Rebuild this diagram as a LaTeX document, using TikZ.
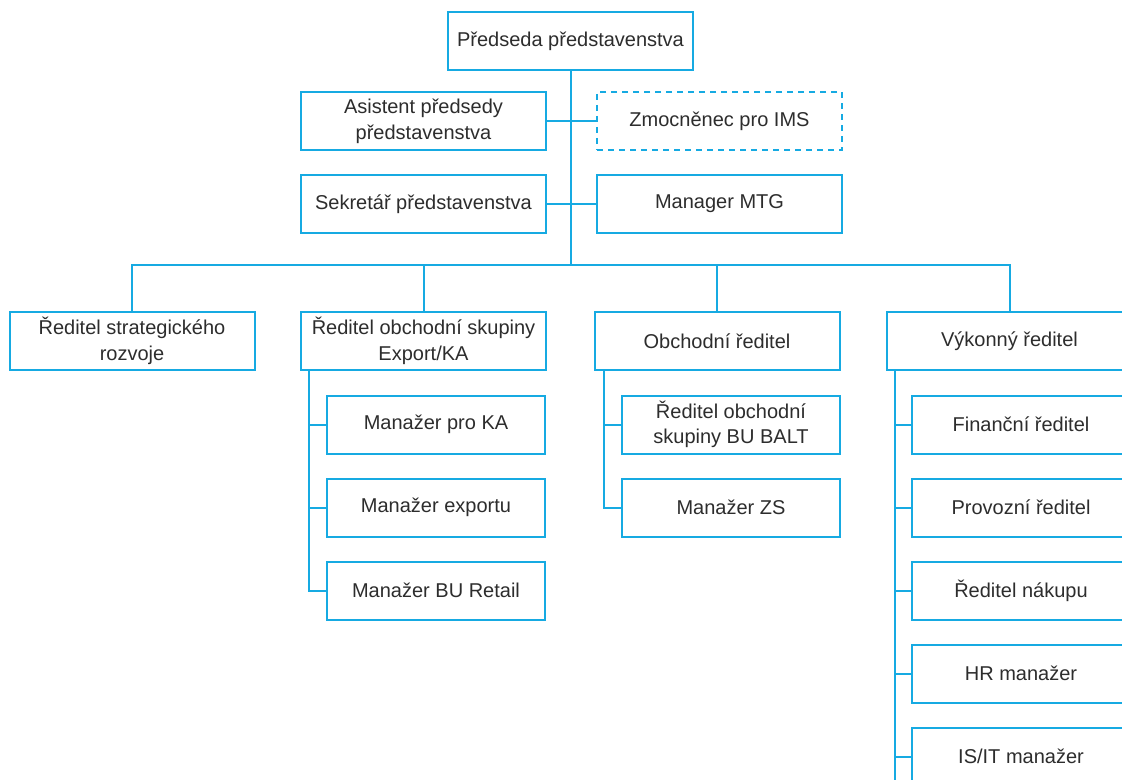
\documentclass[tikz,border=0pt]{standalone}
\usepackage{fontspec}
\setmainfont{Liberation Sans}
\definecolor{orgblue}{RGB}{22,170,226}
\definecolor{orgtext}{RGB}{45,45,45}
\begin{document}
\begin{tikzpicture}[x=0.5pt,y=-0.5pt,
    box/.style={draw=orgblue,line width=1pt,fill=white,text=orgtext,align=center,
                minimum width=122.5pt,minimum height=29pt,inner sep=0pt,
                font=\fontsize{10}{12.8}\selectfont},
    subbox/.style={box,minimum width=109pt},
    dashbox/.style={box,dash pattern=on 3pt off 2.5pt},
    link/.style={draw=orgblue,line width=1pt}]
% see the reference chart: 1 unit = 1 px

  \useasboundingbox (0,0) rectangle (1122,780);
  \clip (0,0) rectangle (1122,780);

% top of the chart
  \node[box]     (chair) at (570.5,41)  {Předseda představenstva};
  \node[box]     (asist) at (423.5,121) {Asistent předsedy\\představenstva};
  \node[dashbox] (ims)   at (719.5,121) {Zmocněnec pro IMS};
  \node[box]     (sekr)  at (423.5,204) {Sekretář představenstva};
  \node[box]     (mtg)   at (719.5,204) {Manager MTG};
  \coordinate (bus) at (570.5,265);

% directors
  \node[box] (strat)  at (132,341)    {Ředitel strategického\\rozvoje};
  \node[box] (export) at (423.5,341)  {Ředitel obchodní skupiny\\Export/KA};
  \node[box] (obch)   at (717,341)    {Obchodní ředitel};
  \node[box] (vykon)  at (1009.5,341) {Výkonný ředitel};

% managers under Export/KA
  \node[subbox] (ka)     at (436,424.5) {Manažer pro KA};
  \node[subbox] (exprt)  at (436,507.5) {Manažer exportu};
  \node[subbox] (retail) at (436,590.5) {Manažer BU Retail};

% managers under Obchodní ředitel
  \node[subbox] (balt) at (731,424.5) {Ředitel obchodní\\skupiny BU BALT};
  \node[subbox] (zs)   at (731,507.5) {Manažer ZS};

% managers under Výkonný ředitel
  \node[subbox] (fin)  at (1021,424.5) {Finanční ředitel};
  \node[subbox] (prov) at (1021,507.5) {Provozní ředitel};
  \node[subbox] (nak)  at (1021,590.5) {Ředitel nákupu};
  \node[subbox] (hr)   at (1021,673.5) {HR manažer};
  \node[subbox] (isit) at (1021,756.5) {IS/IT manažer};

% connectors
  \draw[link] (chair) -- (bus);
  \draw[link] (asist) -- (ims);
  \draw[link] (sekr) -- (mtg);
  \draw[link] (strat.north) |- (bus);
  \draw[link] (export.north) |- (bus);
  \draw[link] (obch.north) |- (bus);
  \draw[link] (vykon.north) |- (bus);

  \coordinate (exprail) at ([xshift=4.5pt]export.south west);
  \draw[link] (exprail) |- (ka.west);
  \draw[link] (exprail) |- (exprt.west);
  \draw[link] (exprail) |- (retail.west);

  \coordinate (obchrail) at ([xshift=5pt]obch.south west);
  \draw[link] (obchrail) |- (balt.west);
  \draw[link] (obchrail) |- (zs.west);

  \coordinate (vykrail) at ([xshift=4.5pt]vykon.south west);
  \coordinate (vykend) at (vykrail |- 0,790);
  \draw[link] (vykrail) -- (vykend);
  \foreach \n in {fin,prov,nak,hr,isit}
    \draw[link] (vykrail) |- (\n.west);

\end{tikzpicture}
\end{document}
